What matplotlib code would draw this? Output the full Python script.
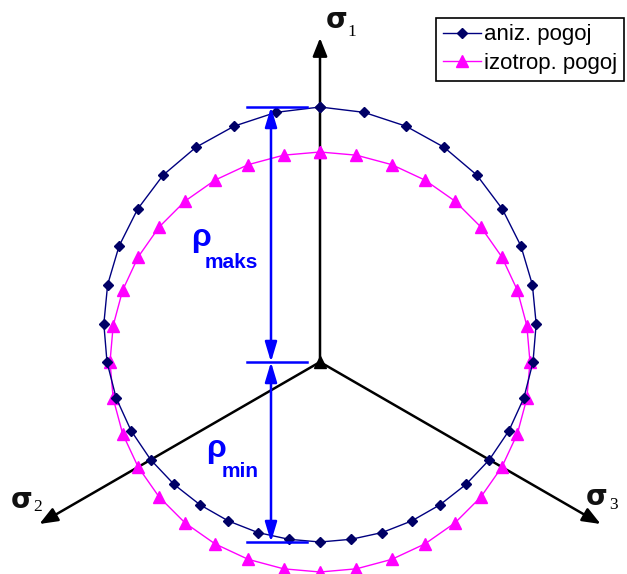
import numpy as np
import matplotlib.pyplot as plt

# polar angle of each point, measured clockwise from the sigma_1 axis (deg)
theta = np.arange(0, 360, 10)

# radius of the anisotropic and isotropic yield locus in the deviatoric plane
rho_aniz = [255.0, 253.5, 251.0, 248.0, 244.0, 238.0, 232.0, 226.0, 219.5,
            213.0, 207.0, 201.0, 195.5, 190.5, 186.5, 183.5, 181.5, 180.0,
            180.0, 180.0, 181.5, 183.5, 186.5, 190.5, 195.5, 201.0, 207.0,
            213.0, 219.5, 226.0, 232.0, 238.0, 244.0, 248.0, 251.0, 253.5]
rho_izo = [210.0] * 36

rho_maks = 255.0
rho_min = 180.0

labels = ['aniz. pogoj', 'izotrop. pogoj']
axis_names = ['1', '2', '3']


def locus(rho):
    rho = np.append(rho, rho[0])
    t = np.radians(np.append(theta, theta[0]))
    return rho * np.sin(t), rho * np.cos(t)


fig = plt.figure(figsize=(6.27, 5.74), dpi=100)
ax = fig.add_axes([0, 0, 1, 1])
ax.set_xlim(-320, 307)
ax.set_ylim(-212, 362)
ax.axis('off')

# principal stress axes
L = 324
for ang in [90, 210, 330]:
    tip = (L*np.cos(np.radians(ang)), L*np.sin(np.radians(ang)))
    ax.annotate('', xy=tip, xytext=(0, 0),
                arrowprops=dict(arrowstyle='-|>,head_length=0.55,head_width=0.22',
                                color='k', lw=1.8, mutation_scale=20,
                                shrinkA=0, shrinkB=0))
ax.plot([0], [0.5], marker='^', color='k', ms=8, zorder=5)

# sigma labels
sig_pos = [((17, 342), (32, 330)), ((-298, -138), (-282, -145)), ((277, -135), (294, -143))]
for name, (p_sig, p_sub) in zip(axis_names, sig_pos):
    ax.text(p_sig[0], p_sig[1], 'σ', fontsize=20, fontweight='bold',
            family='DejaVu Sans', ha='center', va='center', color='#111111')
    ax.text(p_sub[0], p_sub[1], name, fontsize=12.5, family='Liberation Serif',
            ha='center', va='center')

# yield loci
x, y = locus(rho_aniz)
ax.plot(x, y, color='#000080', lw=1.0, marker='D', ms=5.5, mfc='#000066',
        mec='#000066', label=labels[0], zorder=4)
x, y = locus(rho_izo)
ax.plot(x, y, color='#FF00FF', lw=1.0, marker='^', ms=8, label=labels[1], zorder=3)

# dimension lines for rho_max and rho_min
xd = -49
for yy in [rho_maks, 0, -rho_min]:
    ax.plot([-73, -13], [yy, yy], color='#0000FF', lw=1.8, zorder=6)
for y0, y1 in [(0, rho_maks), (0, -rho_min)]:
    ax.annotate('', xy=(xd, y1), xytext=(xd, y0),
                arrowprops=dict(arrowstyle='<|-|>,head_length=0.6,head_width=0.18',
                                color='#0000FF', lw=1.8, mutation_scale=20,
                                shrinkA=0, shrinkB=0), zorder=6)

ax.text(-129, 362-246, 'ρ', fontsize=23, fontweight='bold', color='#0000FF',
        family='Liberation Sans', ha='left', va='baseline')
ax.text(-115, 362-268, 'maks', fontsize=15, fontweight='bold', color='#0000FF',
        family='Liberation Sans', ha='left', va='baseline')
ax.text(-114, 362-457, 'ρ', fontsize=23, fontweight='bold', color='#0000FF',
        family='Liberation Sans', ha='left', va='baseline')
ax.text(-98, 362-477, 'min', fontsize=15, fontweight='bold', color='#0000FF',
        family='Liberation Sans', ha='left', va='baseline')

leg = fig.legend(loc='upper right', bbox_to_anchor=(0.995, 0.969), numpoints=1,
                 prop={'family': 'Liberation Sans', 'size': 16}, fancybox=False,
                 framealpha=1, edgecolor='k', borderaxespad=0, borderpad=0.3,
                 labelspacing=0.35, handlelength=1.7, handletextpad=0.15)
leg.get_frame().set_linewidth(1.2)

plt.savefig('out.png', dpi=100)
